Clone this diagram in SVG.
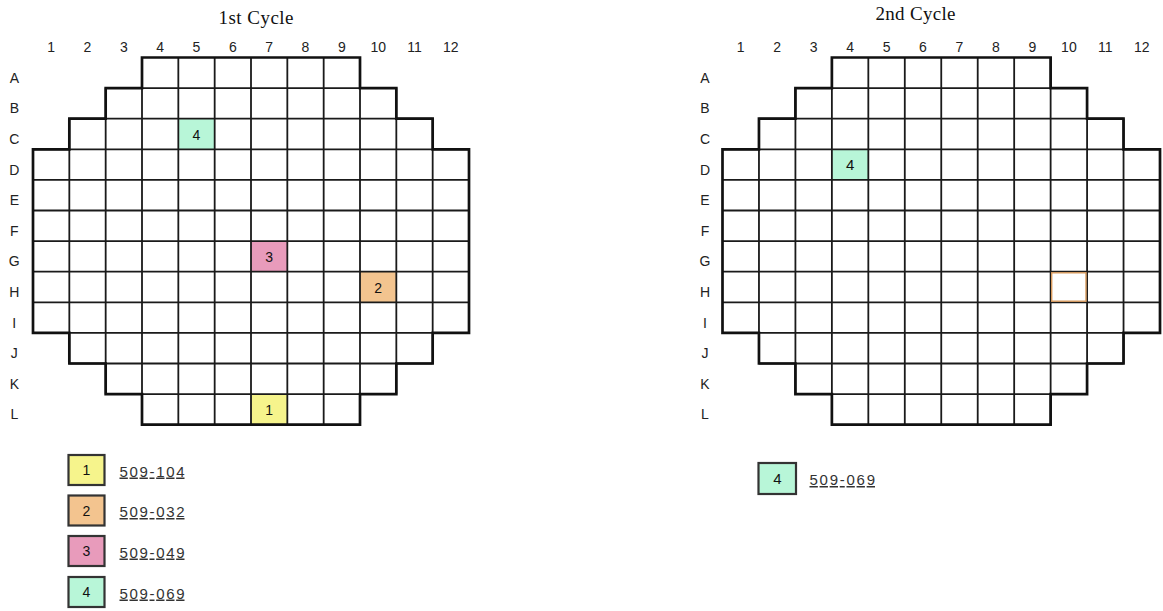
<svg xmlns="http://www.w3.org/2000/svg" width="1163" height="611" viewBox="0 0 1163 611">
<style>
.title{font-family:"Liberation Serif","Times New Roman",serif;font-size:19px;fill:#111;text-anchor:middle}
.lab{font-family:"Liberation Sans",Arial,sans-serif;font-size:14px;fill:#222;text-anchor:middle}
.cell{font-family:"Liberation Sans",Arial,sans-serif;font-size:14px;fill:#111;text-anchor:middle}
.leg{font-family:"Liberation Sans",Arial,sans-serif;font-size:15px;fill:#333;text-decoration:underline}
.grid{fill:none;stroke:#1a1a1a;stroke-width:1.8}
.outline{fill:none;stroke:#111;stroke-width:2.7;stroke-linejoin:miter}
.box{stroke:#333;stroke-width:2.2}
.y{fill:#f6f48c}.o{fill:#f3c48f}.p{fill:#e89bbb}.g{fill:#b8f6d8}
</style>
<rect width="1163" height="611" fill="#fff"/>

<g id="cycle1">
<text class="title" x="256" y="24" textLength="75" lengthAdjust="spacing">1st Cycle</text>
<g id="cycle1-cols">
<text class="lab" x="51.2" y="52">1</text><text class="lab" x="87.5" y="52">2</text><text class="lab" x="123.8" y="52">3</text><text class="lab" x="160.2" y="52">4</text><text class="lab" x="196.5" y="52">5</text><text class="lab" x="232.8" y="52">6</text><text class="lab" x="269.2" y="52">7</text><text class="lab" x="305.5" y="52">8</text><text class="lab" x="341.8" y="52">9</text><text class="lab" x="378.2" y="52">10</text><text class="lab" x="414.5" y="52">11</text><text class="lab" x="450.8" y="52">12</text>
</g>
<g id="cycle1-rows">
<text class="lab" x="14.3" y="82.8">A</text><text class="lab" x="14.3" y="113.4">B</text><text class="lab" x="14.3" y="144">C</text><text class="lab" x="14.3" y="174.6">D</text><text class="lab" x="14.3" y="205.2">E</text><text class="lab" x="14.3" y="235.8">F</text><text class="lab" x="14.3" y="266.4">G</text><text class="lab" x="14.3" y="297">H</text><text class="lab" x="14.3" y="327.6">I</text><text class="lab" x="14.3" y="358.2">J</text><text class="lab" x="14.3" y="388.8">K</text><text class="lab" x="14.3" y="419.4">L</text>
</g>
<g id="cycle1-C5"><rect class="g" x="178.33" y="118.7" width="36.34" height="30.6"/><text class="cell" x="196.5" y="139.5">4</text></g>
<g id="cycle1-G7"><rect class="p" x="251" y="241.1" width="36.33" height="30.6"/><text class="cell" x="269.2" y="262">3</text></g>
<g id="cycle1-H10"><rect class="o" x="360" y="271.7" width="36.33" height="30.6"/><text class="cell" x="378.2" y="292.6">2</text></g>
<g id="cycle1-L7"><rect class="y" x="251" y="394.1" width="36.33" height="30.6"/><text class="cell" x="269.2" y="415">1</text></g>
<path class="grid" d="M105.67 88.1H396.33M69.33 118.7H432.67M33 149.3H469M33 179.9H469M33 210.5H469M33 241.1H469M33 271.7H469M33 302.3H469M33 332.9H469M69.33 363.5H432.67M105.67 394.1H396.33
M69.33 118.7V363.5M105.67 88.1V394.1M142 57.5V424.7M178.33 57.5V424.7M214.67 57.5V424.7M251 57.5V424.7M287.33 57.5V424.7M323.67 57.5V424.7M360 57.5V424.7M396.33 88.1V394.1M432.67 118.7V363.5"/>
<path class="outline" d="M142 57.5H360V88.1H396.33V118.7H432.67V149.3H469V332.9H432.67V363.5H396.33V394.1H360V424.7H142V394.1H105.67V363.5H69.33V332.9H33V149.3H69.33V118.7H105.67V88.1H142Z"/>
</g>

<g id="legend1">
<g id="legend1-1"><rect class="box y" x="68.5" y="455" width="36" height="30"/><text class="cell" x="86.5" y="475">1</text><text class="leg" x="119.5" y="476.5" textLength="65" lengthAdjust="spacing">509-104</text></g>
<g id="legend1-2"><rect class="box o" x="68.5" y="495.5" width="36" height="30"/><text class="cell" x="86.5" y="515.5">2</text><text class="leg" x="119.5" y="517" textLength="65" lengthAdjust="spacing">509-032</text></g>
<g id="legend1-3"><rect class="box p" x="68.5" y="536" width="36" height="30"/><text class="cell" x="86.5" y="556">3</text><text class="leg" x="119.5" y="557.5" textLength="65" lengthAdjust="spacing">509-049</text></g>
<g id="legend1-4"><rect class="box g" x="68.5" y="577" width="36" height="30"/><text class="cell" x="86.5" y="597">4</text><text class="leg" x="119.5" y="598.5" textLength="65" lengthAdjust="spacing">509-069</text></g>
</g>

<g id="cycle2">
<text class="title" x="915.5" y="19.5" textLength="80" lengthAdjust="spacing">2nd Cycle</text>
<g id="cycle2-cols">
<text class="lab" x="740.7" y="52">1</text><text class="lab" x="777.2" y="52">2</text><text class="lab" x="813.7" y="52">3</text><text class="lab" x="850.1" y="52">4</text><text class="lab" x="886.6" y="52">5</text><text class="lab" x="923" y="52">6</text><text class="lab" x="959.5" y="52">7</text><text class="lab" x="995.9" y="52">8</text><text class="lab" x="1032.4" y="52">9</text><text class="lab" x="1068.9" y="52">10</text><text class="lab" x="1105.3" y="52">11</text><text class="lab" x="1141.8" y="52">12</text>
</g>
<g id="cycle2-rows">
<text class="lab" x="705" y="82.8">A</text><text class="lab" x="705" y="113.4">B</text><text class="lab" x="705" y="144">C</text><text class="lab" x="705" y="174.6">D</text><text class="lab" x="705" y="205.2">E</text><text class="lab" x="705" y="235.8">F</text><text class="lab" x="705" y="266.4">G</text><text class="lab" x="705" y="297">H</text><text class="lab" x="705" y="327.6">I</text><text class="lab" x="705" y="358.2">J</text><text class="lab" x="705" y="388.8">K</text><text class="lab" x="705" y="419.4">L</text>
</g>
<g id="cycle2-D4"><rect class="g" x="831.88" y="149.3" width="36.45" height="30.6"/><text class="cell" x="850.1" y="170" style="font-size:15px">4</text></g>
<path class="grid" d="M795.42 88.1H1087.08M758.96 118.7H1123.54M722.5 149.3H1160M722.5 179.9H1160M722.5 210.5H1160M722.5 241.1H1160M722.5 271.7H1160M722.5 302.3H1160M722.5 332.9H1160M758.96 363.5H1123.54M795.42 394.1H1087.08
M758.96 118.7V363.5M795.42 88.1V394.1M831.88 57.5V424.7M868.33 57.5V424.7M904.79 57.5V424.7M941.25 57.5V424.7M977.71 57.5V424.7M1014.17 57.5V424.7M1050.63 57.5V424.7M1087.08 88.1V394.1M1123.54 118.7V363.5"/>
<g id="cycle2-H10"><rect x="1051.7" y="272.8" width="34.3" height="28.4" fill="none" stroke="#d89a5c" stroke-width="1.4"/></g>
<path class="outline" d="M831.88 57.5H1050.63V88.1H1087.08V118.7H1123.54V149.3H1160V332.9H1123.54V363.5H1087.08V394.1H1050.63V424.7H831.88V394.1H795.42V363.5H758.96V332.9H722.5V149.3H758.96V118.7H795.42V88.1H831.88Z"/>
</g>

<g id="legend2">
<g id="legend2-4"><rect class="box g" x="758.5" y="463" width="37.5" height="31"/><text class="cell" x="777.3" y="484" style="font-size:15px">4</text><text class="leg" x="809.5" y="485" textLength="65.5" lengthAdjust="spacing">509-069</text></g>
</g>
</svg>
